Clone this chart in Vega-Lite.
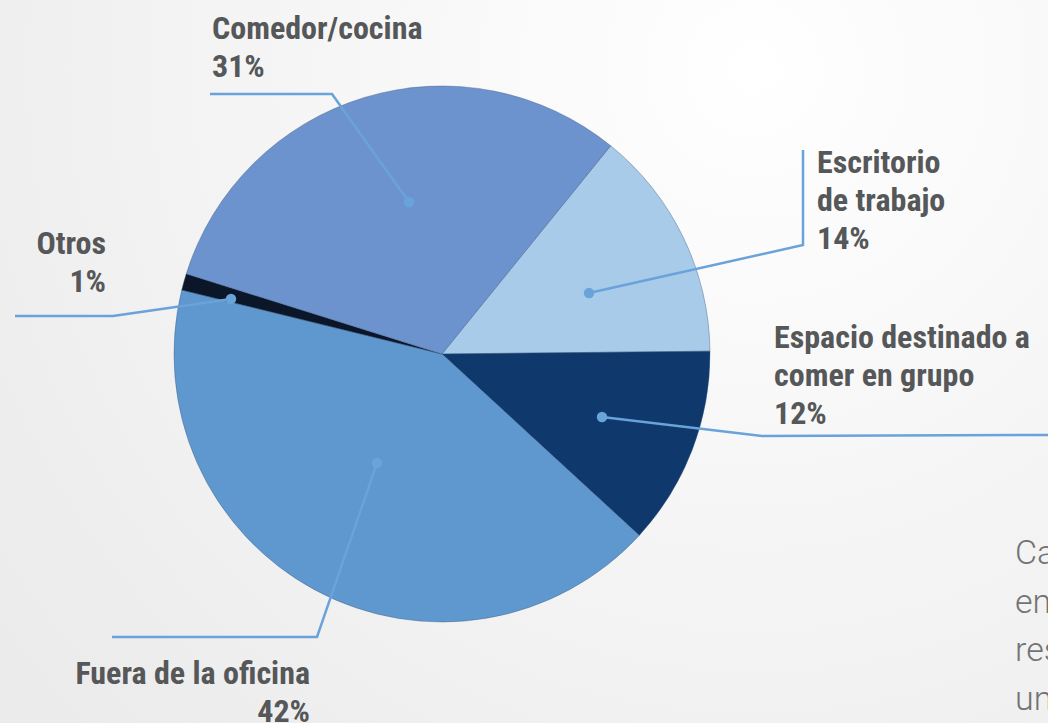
{
  "$schema": "https://vega.github.io/schema/vega-lite/v6.json",
  "width": 1048,
  "height": 723,
  "autosize": {"type": "none"},
  "padding": 0,
  "background": "#f2f2f2",
  "config": {
    "view": {"stroke": null, "fill": {"gradient": "radial", "x1": 0.72, "y1": 0.22, "x2": 0.72, "y2": 0.22, "r1": 0, "r2": 0.9, "stops": [{"offset": 0, "color": "#ffffff"}, {"offset": 1, "color": "#ebebeb"}]}},
    "axis": {"disable": true}
  },
  "datasets": {
    "slices": [
      {"cat": "Escritorio de trabajo", "value": 14, "ord": 1},
      {"cat": "Espacio destinado a comer en grupo", "value": 12, "ord": 2},
      {"cat": "Fuera de la oficina", "value": 42, "ord": 3},
      {"cat": "Otros", "value": 1, "ord": 4},
      {"cat": "Comedor/cocina", "value": 31, "ord": 5}
    ],
    "leaders": [
      {"cat": "Comedor/cocina", "seq": 0, "px": 409, "py": 202},
      {"cat": "Comedor/cocina", "seq": 1, "px": 332, "py": 94},
      {"cat": "Comedor/cocina", "seq": 2, "px": 210, "py": 94},
      {"cat": "Escritorio de trabajo", "seq": 0, "px": 589, "py": 293},
      {"cat": "Escritorio de trabajo", "seq": 1, "px": 803, "py": 245},
      {"cat": "Escritorio de trabajo", "seq": 2, "px": 803, "py": 150},
      {"cat": "Espacio destinado a comer en grupo", "seq": 0, "px": 602, "py": 417},
      {"cat": "Espacio destinado a comer en grupo", "seq": 1, "px": 762, "py": 436},
      {"cat": "Espacio destinado a comer en grupo", "seq": 2, "px": 1048, "py": 435},
      {"cat": "Fuera de la oficina", "seq": 0, "px": 377, "py": 463},
      {"cat": "Fuera de la oficina", "seq": 1, "px": 317, "py": 637},
      {"cat": "Fuera de la oficina", "seq": 2, "px": 112, "py": 637},
      {"cat": "Otros", "seq": 0, "px": 231, "py": 299},
      {"cat": "Otros", "seq": 1, "px": 113, "py": 316},
      {"cat": "Otros", "seq": 2, "px": 15, "py": 316}
    ],
    "labels": [
      {"label": "Comedor/cocina\n31%", "side": "left", "lx": 212, "ly": 39},
      {"label": "Escritorio\nde trabajo\n14%", "side": "left", "lx": 817, "ly": 173},
      {"label": "Espacio destinado a\ncomer en grupo\n12%", "side": "left", "lx": 774, "ly": 348},
      {"label": "Otros\n1%", "side": "right", "lx": 106, "ly": 254},
      {"label": "Fuera de la oficina\n42%", "side": "right", "lx": 310, "ly": 684}
    ],
    "note": [
      {"txt": "Ca\nen\nres\nun", "lx": 1015, "ly": 564}
    ]
  },
  "layer": [
    {
      "data": {"name": "slices"},
      "mark": {"type": "arc", "outerRadius": 268, "stroke": "#35557f", "strokeWidth": 0.4},
      "encoding": {
        "x": {"datum": 442, "type": "quantitative", "scale": {"domain": [0, 1048], "nice": false, "zero": false}},
        "y": {"datum": 354, "type": "quantitative", "scale": {"domain": [0, 723], "nice": false, "zero": false, "reverse": true}},
        "theta": {"field": "value", "type": "quantitative", "stack": true, "scale": {"range": [0.6807, 6.9639]}},
        "order": {"field": "ord", "type": "quantitative"},
        "color": {"field": "cat", "type": "nominal", "legend": null, "scale": {
          "domain": ["Escritorio de trabajo", "Espacio destinado a comer en grupo", "Fuera de la oficina", "Otros", "Comedor/cocina"],
          "range": ["#a9cbea", "#0f386c", "#5f98cf", "#0b1729", "#6d93cf"]}}
      }
    },
    {
      "data": {"name": "leaders"},
      "mark": {"type": "line", "color": "#6aa2da", "strokeWidth": 2.5},
      "encoding": {
        "x": {"field": "px", "type": "quantitative"},
        "y": {"field": "py", "type": "quantitative"},
        "detail": {"field": "cat"},
        "order": {"field": "seq", "type": "quantitative"}
      }
    },
    {
      "data": {"name": "leaders"},
      "transform": [{"filter": "datum.seq === 0"}],
      "mark": {"type": "point", "filled": true, "color": "#6aa2da", "size": 110, "opacity": 1},
      "encoding": {
        "x": {"field": "px", "type": "quantitative"},
        "y": {"field": "py", "type": "quantitative"}
      }
    },
    {
      "data": {"name": "labels"},
      "transform": [{"filter": "datum.side === 'left'"}],
      "mark": {"type": "text", "align": "left", "baseline": "alphabetic", "lineBreak": "\n", "lineHeight": 38, "font": "Roboto Condensed, Roboto", "fontWeight": "bold", "fontSize": 32, "color": "#555759"},
      "encoding": {
        "x": {"field": "lx", "type": "quantitative"},
        "y": {"field": "ly", "type": "quantitative"},
        "text": {"field": "label"}
      }
    },
    {
      "data": {"name": "labels"},
      "transform": [{"filter": "datum.side === 'right'"}],
      "mark": {"type": "text", "align": "right", "baseline": "alphabetic", "lineBreak": "\n", "lineHeight": 38, "font": "Roboto Condensed, Roboto", "fontWeight": "bold", "fontSize": 32, "color": "#555759"},
      "encoding": {
        "x": {"field": "lx", "type": "quantitative"},
        "y": {"field": "ly", "type": "quantitative"},
        "text": {"field": "label"}
      }
    },
    {
      "data": {"name": "note"},
      "mark": {"type": "text", "align": "left", "baseline": "alphabetic", "lineBreak": "\n", "lineHeight": 48.5, "font": "Roboto", "fontWeight": 300, "fontSize": 34, "color": "#737373"},
      "encoding": {
        "x": {"field": "lx", "type": "quantitative"},
        "y": {"field": "ly", "type": "quantitative"},
        "text": {"field": "txt"}
      }
    }
  ]
}
